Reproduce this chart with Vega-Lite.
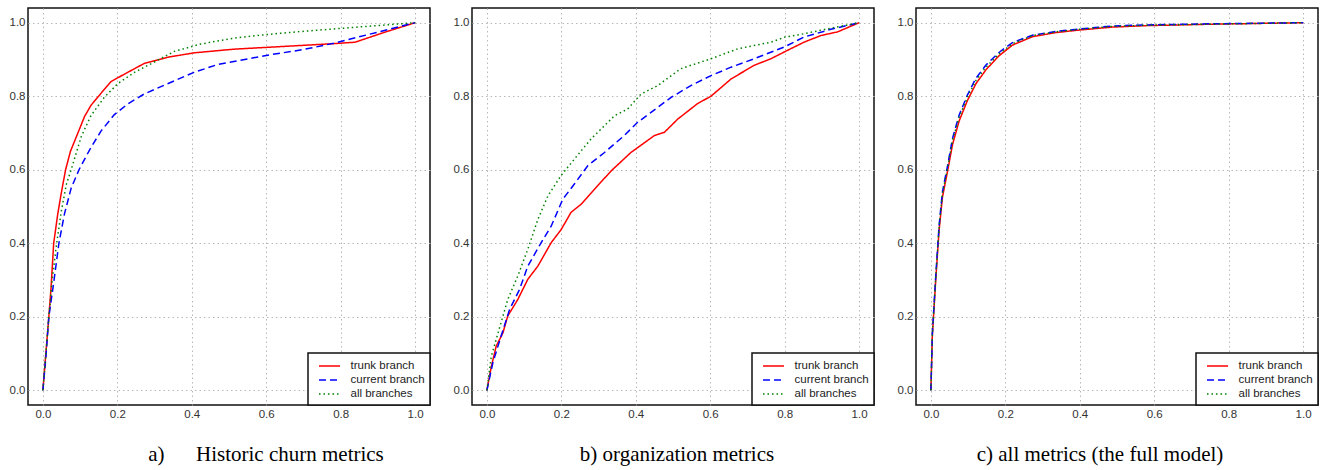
{
  "$schema": "https://vega.github.io/schema/vega-lite/v6.json",
  "padding": {"left": 8, "top": 7, "right": 4, "bottom": 0},
  "background": "white",
  "spacing": 20,
  "datasets": {
    "a": [
      {"series": "trunk branch", "x": 0, "y": 0},
      {"series": "trunk branch", "x": 0.008, "y": 0.1},
      {"series": "trunk branch", "x": 0.016, "y": 0.2},
      {"series": "trunk branch", "x": 0.022, "y": 0.28},
      {"series": "trunk branch", "x": 0.029, "y": 0.4},
      {"series": "trunk branch", "x": 0.04, "y": 0.48},
      {"series": "trunk branch", "x": 0.05, "y": 0.54},
      {"series": "trunk branch", "x": 0.061, "y": 0.6},
      {"series": "trunk branch", "x": 0.074, "y": 0.65},
      {"series": "trunk branch", "x": 0.094, "y": 0.7},
      {"series": "trunk branch", "x": 0.112, "y": 0.745},
      {"series": "trunk branch", "x": 0.129, "y": 0.775},
      {"series": "trunk branch", "x": 0.147, "y": 0.797},
      {"series": "trunk branch", "x": 0.183, "y": 0.84},
      {"series": "trunk branch", "x": 0.228, "y": 0.865},
      {"series": "trunk branch", "x": 0.272, "y": 0.889},
      {"series": "trunk branch", "x": 0.335, "y": 0.906},
      {"series": "trunk branch", "x": 0.406, "y": 0.918},
      {"series": "trunk branch", "x": 0.513, "y": 0.928},
      {"series": "trunk branch", "x": 0.603, "y": 0.933},
      {"series": "trunk branch", "x": 0.692, "y": 0.938},
      {"series": "trunk branch", "x": 0.781, "y": 0.943},
      {"series": "trunk branch", "x": 0.839, "y": 0.947},
      {"series": "trunk branch", "x": 0.915, "y": 0.973},
      {"series": "trunk branch", "x": 1, "y": 1},
      {"series": "current branch", "x": 0, "y": 0},
      {"series": "current branch", "x": 0.008, "y": 0.09},
      {"series": "current branch", "x": 0.016, "y": 0.2},
      {"series": "current branch", "x": 0.03, "y": 0.3},
      {"series": "current branch", "x": 0.043, "y": 0.4},
      {"series": "current branch", "x": 0.058, "y": 0.48},
      {"series": "current branch", "x": 0.076, "y": 0.55},
      {"series": "current branch", "x": 0.097, "y": 0.6},
      {"series": "current branch", "x": 0.126, "y": 0.655},
      {"series": "current branch", "x": 0.156, "y": 0.705},
      {"series": "current branch", "x": 0.192, "y": 0.75},
      {"series": "current branch", "x": 0.228, "y": 0.779},
      {"series": "current branch", "x": 0.272, "y": 0.806},
      {"series": "current branch", "x": 0.335, "y": 0.834},
      {"series": "current branch", "x": 0.406, "y": 0.865},
      {"series": "current branch", "x": 0.469, "y": 0.886},
      {"series": "current branch", "x": 0.558, "y": 0.903},
      {"series": "current branch", "x": 0.6, "y": 0.911},
      {"series": "current branch", "x": 0.7, "y": 0.927},
      {"series": "current branch", "x": 0.781, "y": 0.944},
      {"series": "current branch", "x": 0.871, "y": 0.967},
      {"series": "current branch", "x": 1, "y": 1},
      {"series": "all branches", "x": 0, "y": 0},
      {"series": "all branches", "x": 0.008, "y": 0.1},
      {"series": "all branches", "x": 0.016, "y": 0.2},
      {"series": "all branches", "x": 0.025, "y": 0.3},
      {"series": "all branches", "x": 0.037, "y": 0.4},
      {"series": "all branches", "x": 0.05, "y": 0.49},
      {"series": "all branches", "x": 0.063, "y": 0.56},
      {"series": "all branches", "x": 0.079, "y": 0.61},
      {"series": "all branches", "x": 0.103, "y": 0.69},
      {"series": "all branches", "x": 0.129, "y": 0.747},
      {"series": "all branches", "x": 0.165, "y": 0.797},
      {"series": "all branches", "x": 0.201, "y": 0.834},
      {"series": "all branches", "x": 0.246, "y": 0.865},
      {"series": "all branches", "x": 0.29, "y": 0.888},
      {"series": "all branches", "x": 0.353, "y": 0.922},
      {"series": "all branches", "x": 0.424, "y": 0.942},
      {"series": "all branches", "x": 0.513, "y": 0.958},
      {"series": "all branches", "x": 0.603, "y": 0.968},
      {"series": "all branches", "x": 0.692, "y": 0.976},
      {"series": "all branches", "x": 0.781, "y": 0.983},
      {"series": "all branches", "x": 0.871, "y": 0.99},
      {"series": "all branches", "x": 1, "y": 1}
    ],
    "b": [
      {"series": "trunk branch", "x": 0, "y": 0},
      {"series": "trunk branch", "x": 0.012, "y": 0.065},
      {"series": "trunk branch", "x": 0.025, "y": 0.12},
      {"series": "trunk branch", "x": 0.043, "y": 0.156},
      {"series": "trunk branch", "x": 0.056, "y": 0.202},
      {"series": "trunk branch", "x": 0.083, "y": 0.247},
      {"series": "trunk branch", "x": 0.11, "y": 0.302},
      {"series": "trunk branch", "x": 0.137, "y": 0.338},
      {"series": "trunk branch", "x": 0.173, "y": 0.402},
      {"series": "trunk branch", "x": 0.2, "y": 0.438},
      {"series": "trunk branch", "x": 0.226, "y": 0.484},
      {"series": "trunk branch", "x": 0.253, "y": 0.506},
      {"series": "trunk branch", "x": 0.289, "y": 0.547},
      {"series": "trunk branch", "x": 0.334, "y": 0.597},
      {"series": "trunk branch", "x": 0.387, "y": 0.647},
      {"series": "trunk branch", "x": 0.45, "y": 0.693},
      {"series": "trunk branch", "x": 0.477, "y": 0.702},
      {"series": "trunk branch", "x": 0.513, "y": 0.738},
      {"series": "trunk branch", "x": 0.566, "y": 0.78},
      {"series": "trunk branch", "x": 0.602, "y": 0.8},
      {"series": "trunk branch", "x": 0.656, "y": 0.847},
      {"series": "trunk branch", "x": 0.718, "y": 0.884},
      {"series": "trunk branch", "x": 0.763, "y": 0.902},
      {"series": "trunk branch", "x": 0.808, "y": 0.925},
      {"series": "trunk branch", "x": 0.852, "y": 0.947},
      {"series": "trunk branch", "x": 0.897, "y": 0.965},
      {"series": "trunk branch", "x": 0.942, "y": 0.975},
      {"series": "trunk branch", "x": 1, "y": 1},
      {"series": "current branch", "x": 0, "y": 0},
      {"series": "current branch", "x": 0.016, "y": 0.075},
      {"series": "current branch", "x": 0.038, "y": 0.147},
      {"series": "current branch", "x": 0.061, "y": 0.22},
      {"series": "current branch", "x": 0.088, "y": 0.275},
      {"series": "current branch", "x": 0.11, "y": 0.338},
      {"series": "current branch", "x": 0.146, "y": 0.402},
      {"series": "current branch", "x": 0.173, "y": 0.447},
      {"series": "current branch", "x": 0.204, "y": 0.52},
      {"series": "current branch", "x": 0.235, "y": 0.561},
      {"series": "current branch", "x": 0.271, "y": 0.611},
      {"series": "current branch", "x": 0.316, "y": 0.647},
      {"series": "current branch", "x": 0.369, "y": 0.693},
      {"series": "current branch", "x": 0.405, "y": 0.729},
      {"series": "current branch", "x": 0.441, "y": 0.756},
      {"series": "current branch", "x": 0.495, "y": 0.797},
      {"series": "current branch", "x": 0.548, "y": 0.829},
      {"series": "current branch", "x": 0.602, "y": 0.856},
      {"series": "current branch", "x": 0.656, "y": 0.879},
      {"series": "current branch", "x": 0.718, "y": 0.902},
      {"series": "current branch", "x": 0.799, "y": 0.934},
      {"series": "current branch", "x": 0.852, "y": 0.961},
      {"series": "current branch", "x": 0.924, "y": 0.982},
      {"series": "current branch", "x": 1, "y": 1},
      {"series": "all branches", "x": 0, "y": 0},
      {"series": "all branches", "x": 0.012, "y": 0.093},
      {"series": "all branches", "x": 0.03, "y": 0.156},
      {"series": "all branches", "x": 0.056, "y": 0.247},
      {"series": "all branches", "x": 0.083, "y": 0.311},
      {"series": "all branches", "x": 0.11, "y": 0.384},
      {"series": "all branches", "x": 0.137, "y": 0.465},
      {"series": "all branches", "x": 0.164, "y": 0.529},
      {"series": "all branches", "x": 0.199, "y": 0.584},
      {"series": "all branches", "x": 0.235, "y": 0.629},
      {"series": "all branches", "x": 0.28, "y": 0.684},
      {"series": "all branches", "x": 0.343, "y": 0.747},
      {"series": "all branches", "x": 0.378, "y": 0.765},
      {"series": "all branches", "x": 0.414, "y": 0.806},
      {"series": "all branches", "x": 0.459, "y": 0.829},
      {"series": "all branches", "x": 0.521, "y": 0.875},
      {"series": "all branches", "x": 0.602, "y": 0.902},
      {"series": "all branches", "x": 0.674, "y": 0.929},
      {"series": "all branches", "x": 0.763, "y": 0.947},
      {"series": "all branches", "x": 0.801, "y": 0.961},
      {"series": "all branches", "x": 0.852, "y": 0.97},
      {"series": "all branches", "x": 0.924, "y": 0.985},
      {"series": "all branches", "x": 1, "y": 1}
    ],
    "c": [
      {"series": "trunk branch", "x": 0, "y": 0},
      {"series": "trunk branch", "x": 0.004, "y": 0.15},
      {"series": "trunk branch", "x": 0.013, "y": 0.3},
      {"series": "trunk branch", "x": 0.022, "y": 0.435},
      {"series": "trunk branch", "x": 0.031, "y": 0.525},
      {"series": "trunk branch", "x": 0.045, "y": 0.597},
      {"series": "trunk branch", "x": 0.058, "y": 0.668},
      {"series": "trunk branch", "x": 0.076, "y": 0.733},
      {"series": "trunk branch", "x": 0.098, "y": 0.788},
      {"series": "trunk branch", "x": 0.121, "y": 0.834},
      {"series": "trunk branch", "x": 0.148, "y": 0.872},
      {"series": "trunk branch", "x": 0.183, "y": 0.91},
      {"series": "trunk branch", "x": 0.219, "y": 0.939},
      {"series": "trunk branch", "x": 0.273, "y": 0.962},
      {"series": "trunk branch", "x": 0.335, "y": 0.973},
      {"series": "trunk branch", "x": 0.398, "y": 0.98},
      {"series": "trunk branch", "x": 0.487, "y": 0.988},
      {"series": "trunk branch", "x": 0.577, "y": 0.992},
      {"series": "trunk branch", "x": 0.756, "y": 0.996},
      {"series": "trunk branch", "x": 1, "y": 1},
      {"series": "current branch", "x": 0, "y": 0},
      {"series": "current branch", "x": 0.004, "y": 0.155},
      {"series": "current branch", "x": 0.013, "y": 0.31},
      {"series": "current branch", "x": 0.022, "y": 0.448},
      {"series": "current branch", "x": 0.031, "y": 0.54},
      {"series": "current branch", "x": 0.045, "y": 0.612},
      {"series": "current branch", "x": 0.058, "y": 0.685},
      {"series": "current branch", "x": 0.076, "y": 0.749},
      {"series": "current branch", "x": 0.098, "y": 0.803},
      {"series": "current branch", "x": 0.121, "y": 0.849},
      {"series": "current branch", "x": 0.148, "y": 0.885},
      {"series": "current branch", "x": 0.183, "y": 0.919},
      {"series": "current branch", "x": 0.219, "y": 0.946},
      {"series": "current branch", "x": 0.273, "y": 0.966},
      {"series": "current branch", "x": 0.335, "y": 0.976},
      {"series": "current branch", "x": 0.398, "y": 0.983},
      {"series": "current branch", "x": 0.487, "y": 0.991},
      {"series": "current branch", "x": 0.577, "y": 0.994},
      {"series": "current branch", "x": 0.756, "y": 0.997},
      {"series": "current branch", "x": 1, "y": 1},
      {"series": "all branches", "x": 0, "y": 0},
      {"series": "all branches", "x": 0.004, "y": 0.152},
      {"series": "all branches", "x": 0.013, "y": 0.306},
      {"series": "all branches", "x": 0.022, "y": 0.443},
      {"series": "all branches", "x": 0.031, "y": 0.534},
      {"series": "all branches", "x": 0.045, "y": 0.606},
      {"series": "all branches", "x": 0.058, "y": 0.679},
      {"series": "all branches", "x": 0.076, "y": 0.743},
      {"series": "all branches", "x": 0.098, "y": 0.797},
      {"series": "all branches", "x": 0.121, "y": 0.843},
      {"series": "all branches", "x": 0.148, "y": 0.879},
      {"series": "all branches", "x": 0.183, "y": 0.915},
      {"series": "all branches", "x": 0.219, "y": 0.943},
      {"series": "all branches", "x": 0.273, "y": 0.965},
      {"series": "all branches", "x": 0.335, "y": 0.975},
      {"series": "all branches", "x": 0.398, "y": 0.982},
      {"series": "all branches", "x": 0.487, "y": 0.99},
      {"series": "all branches", "x": 0.577, "y": 0.993},
      {"series": "all branches", "x": 0.756, "y": 0.996},
      {"series": "all branches", "x": 1, "y": 1}
    ]
  },
  "hconcat": [
    {
      "width": 402, "height": 397,
      "title": {"text": "a)\u00a0\u00a0\u00a0\u00a0\u00a0\u00a0Historic churn metrics", "dx": 37},
      "data": {"name": "a"},
      "mark": {"type": "line", "strokeWidth": 1.5, "strokeCap": "butt"},
      "encoding": {
        "x": {"field": "x", "type": "quantitative", "scale": {"domain": [-0.04, 1.04], "nice": false, "zero": false}, "axis": {"values": [0, 0.2, 0.4, 0.6, 0.8, 1.0], "format": ".1f", "title": null}},
        "y": {"field": "y", "type": "quantitative", "scale": {"domain": [-0.04, 1.04], "nice": false, "zero": false}, "axis": {"values": [0, 0.2, 0.4, 0.6, 0.8, 1.0], "format": ".1f", "title": null}},
        "color": {"field": "series", "type": "nominal", "scale": {"domain": ["trunk branch", "current branch", "all branches"], "range": ["#ff0000", "#0000ff", "#008000"]}, "legend": {"title": null}},
        "strokeDash": {"field": "series", "type": "nominal", "scale": {"domain": ["trunk branch", "current branch", "all branches"], "range": [[1, 0], [7, 4], [1.5, 3]]}, "legend": {"title": null}}
      }
    },
    {
      "width": 402, "height": 397,
      "title": {"text": "b) organization metrics", "dx": 4},
      "data": {"name": "b"},
      "mark": {"type": "line", "strokeWidth": 1.5, "strokeCap": "butt"},
      "encoding": {
        "x": {"field": "x", "type": "quantitative", "scale": {"domain": [-0.04, 1.04], "nice": false, "zero": false}, "axis": {"values": [0, 0.2, 0.4, 0.6, 0.8, 1.0], "format": ".1f", "title": null}},
        "y": {"field": "y", "type": "quantitative", "scale": {"domain": [-0.04, 1.04], "nice": false, "zero": false}, "axis": {"values": [0, 0.2, 0.4, 0.6, 0.8, 1.0], "format": ".1f", "title": null}},
        "color": {"field": "series", "type": "nominal", "scale": {"domain": ["trunk branch", "current branch", "all branches"], "range": ["#ff0000", "#0000ff", "#008000"]}, "legend": {"title": null}},
        "strokeDash": {"field": "series", "type": "nominal", "scale": {"domain": ["trunk branch", "current branch", "all branches"], "range": [[1, 0], [7, 4], [1.5, 3]]}, "legend": {"title": null}}
      }
    },
    {
      "width": 402, "height": 397,
      "title": {"text": "c) all metrics (the full model)", "dx": -17},
      "data": {"name": "c"},
      "mark": {"type": "line", "strokeWidth": 1.5, "strokeCap": "butt"},
      "encoding": {
        "x": {"field": "x", "type": "quantitative", "scale": {"domain": [-0.04, 1.04], "nice": false, "zero": false}, "axis": {"values": [0, 0.2, 0.4, 0.6, 0.8, 1.0], "format": ".1f", "title": null}},
        "y": {"field": "y", "type": "quantitative", "scale": {"domain": [-0.04, 1.04], "nice": false, "zero": false}, "axis": {"values": [0, 0.2, 0.4, 0.6, 0.8, 1.0], "format": ".1f", "title": null}},
        "color": {"field": "series", "type": "nominal", "scale": {"domain": ["trunk branch", "current branch", "all branches"], "range": ["#ff0000", "#0000ff", "#008000"]}, "legend": {"title": null}},
        "strokeDash": {"field": "series", "type": "nominal", "scale": {"domain": ["trunk branch", "current branch", "all branches"], "range": [[1, 0], [7, 4], [1.5, 3]]}, "legend": {"title": null}}
      }
    }
  ],
  "resolve": {"scale": {"color": "independent", "strokeDash": "independent"}},
  "config": {
    "view": {"stroke": "#111", "strokeWidth": 1.5},
    "axis": {
      "grid": true, "gridColor": "#b8b8b8", "gridDash": [1.5, 3], "gridWidth": 1,
      "domain": false, "ticks": false,
      "labelFont": "Liberation Sans", "labelFontSize": 11.5, "labelColor": "#333",
      "labelPadding": 3
    },
    "legend": {
      "orient": "bottom-right", "offset": 0,
      "strokeColor": "#111", "strokeWidth": 1.5, "fillColor": "white",
      "padding": 5, "cornerRadius": 0,
      "symbolType": "M-1.5,0H1.5", "symbolSize": 196, "symbolStrokeWidth": 1.5, "symbolOffset": 8.5,
      "labelFont": "Liberation Sans", "labelFontSize": 11.5, "labelColor": "#222",
      "labelOffset": 13, "rowPadding": -0.5
    },
    "title": {
      "orient": "bottom", "anchor": "middle",
      "font": "Liberation Serif", "fontSize": 21, "fontWeight": "normal", "color": "#000",
      "offset": 24
    }
  }
}
